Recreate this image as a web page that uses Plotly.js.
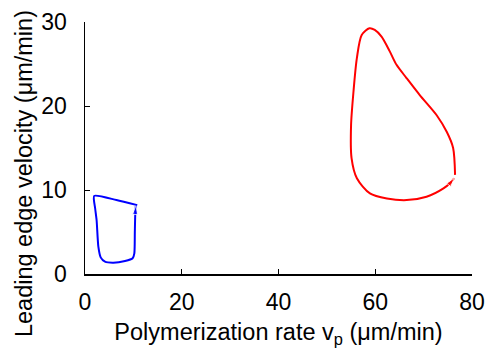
<!DOCTYPE html>
<html>
<head>
<meta charset="utf-8">
<script src="https://cdn.plot.ly/plotly-3.0.1.min.js"></script>
<style>html,body{margin:0;padding:0;background:#fff;}#chart{width:489px;height:349px;}</style>
</head>
<body>
<div id="chart"></div>
<script>
// Blue trajectory (slow cell)
const blueX = [10.8, 6.5, 1.9, 2.1, 2.4, 2.76, 3.24, 4.13, 5.86, 8.27, 9.85, 10.2, 10.3, 10.4, 10.5];
const blueY = [8.2, 8.8, 9.3, 7.8, 6.4, 3.25, 1.98, 1.47, 1.35, 1.55, 1.87, 2.46, 5.0, 7.3, 8.1];
// Red trajectory (fast cell)
const redX = [76.5, 76.1, 74.8, 72.7, 69.2, 66.5, 64.4, 63.0, 61.3, 59.9, 58.8, 57.2, 56.2, 55.5, 55.0, 55.1, 56.2, 58.9, 62.4, 66.5, 70.6, 74.1, 75.6, 76.3];
const redY = [11.8, 15.0, 16.9, 18.9, 21.3, 23.3, 24.9, 26.5, 28.25, 29.05, 29.25, 28.45, 25.7, 21.7, 17.7, 13.8, 11.4, 9.6, 9.0, 8.8, 9.2, 10.2, 10.9, 11.4];
const xTicks = [0, 20, 40, 60, 80];
const yTicks = [0, 10, 20, 30];
const xTitle = 'Polymerization rate v<sub>p</sub> (μm/min)';
const yTitle = 'Leading edge velocity (μm/min)';

function arrowTrace(xs, ys, color) {
  const n = xs.length;
  return {
    x: xs.slice(n - 2), y: ys.slice(n - 2), mode: 'markers', type: 'scatter',
    marker: {symbol: 'arrow', angleref: 'previous', size: [0, 9], color: color},
    hoverinfo: 'skip', showlegend: false
  };
}

const traces = [
  {x: blueX, y: blueY, mode: 'lines', type: 'scatter', line: {color: '#0000ff', width: 2, shape: 'spline', smoothing: 0.6}, showlegend: false},
  arrowTrace(blueX, blueY, '#0000ff'),
  {x: redX, y: redY, mode: 'lines', type: 'scatter', line: {color: '#ff0000', width: 2, shape: 'spline', smoothing: 0.8}, showlegend: false},
  arrowTrace(redX, redY, '#ff0000')
];

const tickFont = {family: 'Liberation Sans, Arial, sans-serif', size: 23, color: '#000'};
const titleFont = {family: 'Liberation Sans, Arial, sans-serif', size: 23.5, color: '#000'};
const layout = {
  width: 489, height: 349,
  margin: {l: 85, r: 17, t: 22, b: 75},
  paper_bgcolor: '#fff', plot_bgcolor: '#fff',
  font: tickFont,
  showlegend: false,
  xaxis: {
    range: [0, 80], tickvals: xTicks, ticktext: xTicks.map(String),
    showgrid: false, zeroline: false, showline: true, linecolor: '#000', linewidth: 1.5,
    ticks: 'inside', ticklen: 5, tickwidth: 1, tickcolor: '#000',
    ticklabelstandoff: 7,
    tickfont: tickFont,
    title: {text: xTitle, font: titleFont, standoff: 9}
  },
  yaxis: {
    range: [0, 30], tickvals: yTicks, ticktext: yTicks.map(String),
    showgrid: false, zeroline: false, showline: true, linecolor: '#000', linewidth: 1.5,
    ticks: 'inside', ticklen: 5, tickwidth: 1, tickcolor: '#000',
    ticklabelstandoff: 12,
    tickfont: tickFont
  },
  annotations: [{
    text: yTitle, textangle: -90, font: titleFont, showarrow: false,
    xref: 'paper', yref: 'paper', x: -0.158, y: 0.40, xanchor: 'center', yanchor: 'middle'
  }]
};
Plotly.newPlot('chart', traces, layout, {staticPlot: true, displayModeBar: false});
</script>
</body>
</html>
